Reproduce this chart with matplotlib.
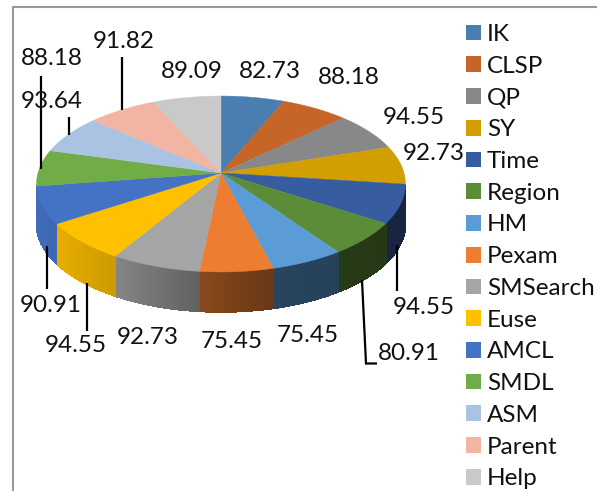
import numpy as np
import matplotlib
matplotlib.use("Agg")
import matplotlib.pyplot as plt
from matplotlib.collections import PolyCollection
from matplotlib.patches import Patch

# data
categories = ["IK", "CLSP", "QP", "SY", "Time", "Region", "HM", "Pexam",
              "SMSearch", "Euse", "AMCL", "SMDL", "ASM", "Parent", "Help"]
values = [82.73, 88.18, 94.55, 92.73, 94.55, 80.91, 75.45, 75.45,
          92.73, 94.55, 90.91, 88.18, 93.64, 91.82, 89.09]
colors = ["#4a7eb0", "#c56528", "#888888", "#d19f00", "#385ca0", "#5b8c37",
          "#5b9bd6", "#ed7d31", "#a5a5a5", "#ffc000", "#4472c4", "#70ad47",
          "#aac3e3", "#f2b5a4", "#c9c9c9"]

# label centres in pixels
label_pos = [(270, 71), (349, 77), (414, 117), (434, 154), (424, 308),
             (408.5, 354), (308, 335), (232, 341), (148, 337), (76, 346),
             (51, 306), (52, 58), (52, 101), (124, 41), (192, 71)]
# leader lines in pixels
leaders = [[(41, 76), (41, 169)], [(69, 117), (69, 135)], [(122, 57), (122, 110)],
           [(46.7, 246), (46.7, 289)], [(86.7, 283), (86.7, 331)],
           [(397, 245), (397, 291)], [(362, 280), (366, 363.5), (377, 363.5)]]

plt.rcParams["font.family"] = ["Lato", "DejaVu Sans"]

fig = plt.figure(figsize=(5.97, 4.91), dpi=100)
ax = fig.add_axes([0, 0, 1, 1])
ax.set_xlim(0, 597)
ax.set_ylim(491, 0)
ax.axis("off")

# perspective tilt of the pie
cx, cy = 221, 173
bx, ky, tilt = 183, 86.6, 0.125
depth = 40


def project(theta):
    u, v = np.sin(theta), np.cos(theta)
    d = 1 + tilt * v
    return cx + bx * u / d, cy - ky * v / d


def wall_shade(x):
    return np.interp(x, [37, 60, 118, 200, 273, 337, 406],
                     [0.95, 0.90, 0.80, 0.58, 0.44, 0.42, 0.40])


edges = np.cumsum([0] + values) / sum(values) * 2 * np.pi

# side wall, drawn as thin strips so the shading can vary
for i in range(len(values)):
    t = np.linspace(edges[i], edges[i + 1], 40)
    x, y = project(t)
    polys, cols = [], []
    base = np.array(matplotlib.colors.to_rgb(colors[i]))
    for j in range(len(t) - 1):
        if np.cos(t[j]) > -0.15 and np.cos(t[j + 1]) > -0.15:
            continue  # behind the silhouette
        polys.append([(x[j], y[j]), (x[j + 1], y[j + 1]),
                      (x[j + 1], y[j + 1] + depth), (x[j], y[j] + depth)])
        cols.append(base * wall_shade((x[j] + x[j + 1]) / 2))
    if polys:
        ax.add_collection(PolyCollection(polys, facecolors=cols, edgecolors="face",
                                         linewidths=0.5, antialiaseds=False, zorder=1))

# top of the pie
for i in range(len(values)):
    t = np.linspace(edges[i], edges[i + 1], 40)
    x, y = project(t)
    pts = [(cx, cy)] + list(zip(x, y))
    ax.fill(*zip(*pts), color=colors[i], lw=0.3, zorder=2)

# leader lines
for line in leaders:
    ax.plot(*zip(*line), color="black", lw=1.6, solid_capstyle="butt",
            solid_joinstyle="miter", zorder=3)

# value labels
for v, (px, py) in zip(values, label_pos):
    ax.text(px, py, f"{v:.2f}", ha="center", va="center", fontsize=17.5,
            color="#111111", zorder=4)

# frame
ax.plot([12.5, 12.5, 597], [491, 7, 7], color="#999999", lw=1.5,
        solid_joinstyle="miter", zorder=0)

# legend
handles = [Patch(facecolor=c, edgecolor="none", label=n)
           for c, n in zip(colors, categories)]
ax.legend(handles=handles, loc="upper left", bbox_to_anchor=(466 / 597, 1 - 24 / 491),
          frameon=False, fontsize=17.5, handlelength=0.62, handleheight=0.62,
          handletextpad=0.24, labelspacing=0.442, borderpad=0, borderaxespad=0,
          labelcolor="#111111")

fig.savefig("out.png", dpi=100)
